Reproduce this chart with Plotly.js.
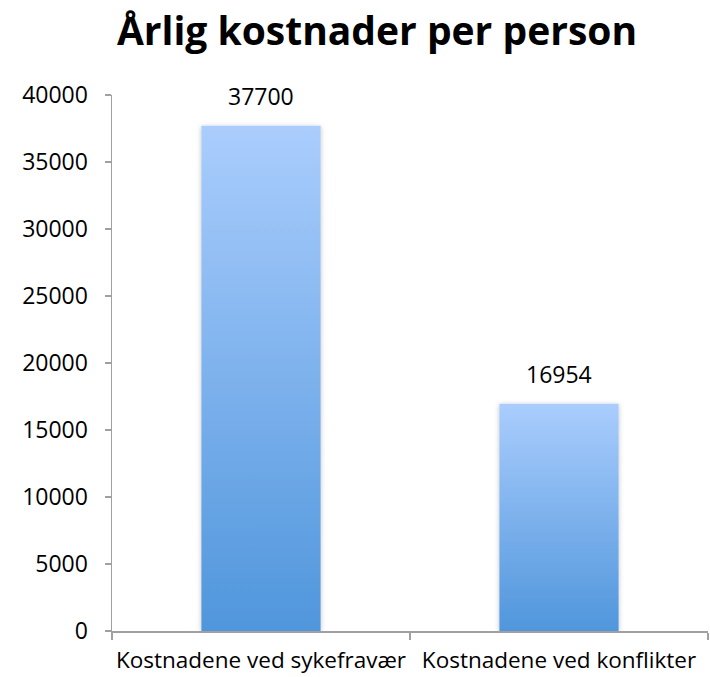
<!DOCTYPE html>
<html>
<head>
<meta charset="utf-8">
<script src="https://cdn.plot.ly/plotly-3.0.1.min.js"></script>
<style>html,body{margin:0;padding:0;background:#fff;}</style>
</head>
<body>
<div id="chart" style="width:710px;height:677px;"></div>
<script>
const categories = ["Kostnadene ved sykefravær", "Kostnadene ved konflikter"];
const values = [37700, 16954];
const yTicks = [0, 5000, 10000, 15000, 20000, 25000, 30000, 35000, 40000];
const titleText = "Årlig kostnader per person";

const font = "'Open Sans', 'Noto Sans', sans-serif";

const trace = {
  type: "bar",
  x: categories,
  y: values,
  width: 0.4,
  marker: {color: "#7fb2ee", line: {width: 0}},
  hoverinfo: "none"
};

const annotations = categories.map(function(c, i) {
  return {
    x: c, y: values[i], xref: "x", yref: "y",
    text: String(values[i]),
    showarrow: false, yanchor: "bottom", xanchor: "center",
    yshift: 12,
    font: {family: font, size: 23, color: "#000"}
  };
});

const layout = {
  width: 710, height: 677,
  margin: {l: 112, r: 2, t: 95, b: 46},
  paper_bgcolor: "#fff", plot_bgcolor: "#fff",
  showlegend: false,
  annotations: annotations,
  title: {text: "<b>" + titleText + "</b>", font: {family: font, size: 39, color: "#000"}, xref: "paper", x: 0.4446, xanchor: "center", y: 0.953, yanchor: "middle"},
  xaxis: {
    type: "category",
    showgrid: false, zeroline: false,
    showline: true, linecolor: "#a0a0a0", linewidth: 1.5,
    ticks: "outside", tickson: "boundaries", ticklen: 7, tickcolor: "#a0a0a0", tickwidth: 1.5,
    tickangle: 0,
    tickfont: {family: font, size: 22.5, color: "#000"},
    ticklabelstandoff: 8
  },
  yaxis: {
    range: [0, 40000],
    tickvals: yTicks,
    ticktext: yTicks.map(String),
    showgrid: false, zeroline: false,
    showline: true, linecolor: "#a0a0a0", linewidth: 1.5,
    ticks: "outside", ticklen: 6, tickcolor: "#a0a0a0", tickwidth: 1.5,
    tickfont: {family: font, size: 23, color: "#000"},
    ticklabelstandoff: 12
  },
  font: {family: font}
};

Plotly.newPlot("chart", [trace], layout, {displayModeBar: false, staticPlot: true}).then(function(gd) {
  const svg = gd.querySelector("svg.main-svg");
  const ns = "http://www.w3.org/2000/svg";
  let defs = svg.querySelector("defs");
  if (!defs) { defs = document.createElementNS(ns, "defs"); svg.insertBefore(defs, svg.firstChild); }
  const grad = document.createElementNS(ns, "linearGradient");
  grad.setAttribute("id", "barGrad");
  grad.setAttribute("x1", "0"); grad.setAttribute("y1", "0");
  grad.setAttribute("x2", "0"); grad.setAttribute("y2", "1");
  [["0", "#aacdfd"], ["1", "#5096dc"]].forEach(function(s) {
    const st = document.createElementNS(ns, "stop");
    st.setAttribute("offset", s[0]); st.setAttribute("stop-color", s[1]);
    grad.appendChild(st);
  });
  defs.appendChild(grad);
  const filt = document.createElementNS(ns, "filter");
  filt.setAttribute("id", "barShadow");
  filt.setAttribute("x", "-10%"); filt.setAttribute("y", "-5%");
  filt.setAttribute("width", "120%"); filt.setAttribute("height", "110%");
  const ds = document.createElementNS(ns, "feDropShadow");
  ds.setAttribute("dx", "0"); ds.setAttribute("dy", "1");
  ds.setAttribute("stdDeviation", "2.5"); ds.setAttribute("flood-color", "#000");
  ds.setAttribute("flood-opacity", "0.25");
  filt.appendChild(ds);
  defs.appendChild(filt);
  gd.querySelectorAll(".barlayer .point path").forEach(function(p) {
    p.style.fill = "url(#barGrad)";
    p.style.filter = "url(#barShadow)";
  });
});
</script>
</body>
</html>
